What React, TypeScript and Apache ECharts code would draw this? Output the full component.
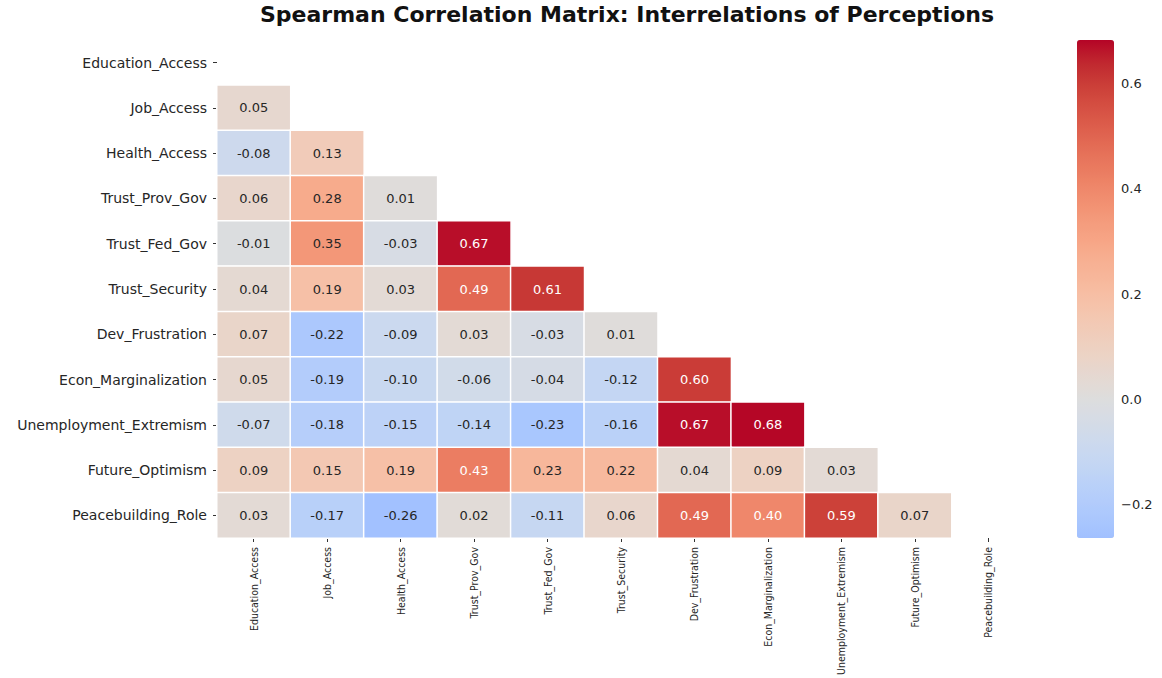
import React, { useEffect, useRef } from "react";
import * as echarts from "echarts";

const variables = [
  "Education_Access",
  "Job_Access",
  "Health_Access",
  "Trust_Prov_Gov",
  "Trust_Fed_Gov",
  "Trust_Security",
  "Dev_Frustration",
  "Econ_Marginalization",
  "Unemployment_Extremism",
  "Future_Optimism",
  "Peacebuilding_Role",
];

// lower-triangle correlations, row i holds columns 0..i-1
const rowJob = [0.05];
const rowHealth = [-0.08, 0.13];
const rowProv = [0.06, 0.28, 0.01];
const rowFed = [-0.01, 0.35, -0.03, 0.67];
const rowSecurity = [0.04, 0.19, 0.03, 0.49, 0.61];
const rowDev = [0.07, -0.22, -0.09, 0.03, -0.03, 0.01];
const rowEcon = [0.05, -0.19, -0.1, -0.06, -0.04, -0.12, 0.6];
const rowUnemp = [-0.07, -0.18, -0.15, -0.14, -0.23, -0.16, 0.67, 0.68];
const rowFuture = [0.09, 0.15, 0.19, 0.43, 0.23, 0.22, 0.04, 0.09, 0.03];
const rowPeace = [0.03, -0.17, -0.26, 0.02, -0.11, 0.06, 0.49, 0.4, 0.59, 0.07];

const lowerRows = [[], rowJob, rowHealth, rowProv, rowFed, rowSecurity, rowDev, rowEcon, rowUnemp, rowFuture, rowPeace];

const colorMin = -0.263;
const colorMax = 0.682;
const colorTicks = [-0.2, 0, 0.2, 0.4, 0.6];

// coolwarm anchors (Moreland)
const coolwarm: number[][] = [
  [59, 76, 192], [68, 90, 204], [77, 104, 215], [87, 117, 225], [98, 130, 234],
  [108, 142, 241], [119, 154, 247], [130, 165, 251], [141, 176, 254], [152, 185, 255],
  [163, 194, 255], [174, 201, 253], [184, 208, 249], [194, 213, 244], [204, 217, 238],
  [213, 219, 230], [221, 221, 221], [229, 216, 209], [236, 211, 197], [241, 204, 185],
  [245, 196, 173], [247, 187, 160], [247, 177, 148], [247, 166, 135], [244, 154, 123],
  [241, 141, 111], [236, 127, 99], [229, 112, 88], [222, 96, 77], [213, 80, 66],
  [203, 62, 56], [192, 40, 47], [180, 4, 38],
];

function cw(t: number): string {
  const p = Math.max(0, Math.min(1, t)) * (coolwarm.length - 1);
  const i = Math.min(coolwarm.length - 2, Math.floor(p));
  const f = p - i;
  const a = coolwarm[i];
  const b = coolwarm[i + 1];
  const c = [0, 1, 2].map((k) => Math.round(a[k] + (b[k] - a[k]) * f));
  return `rgb(${c[0]},${c[1]},${c[2]})`;
}

const vrange = Math.max(colorMax, -colorMin);
const gradient: string[] = [];
for (let k = 0; k <= 40; k++) {
  const v = colorMin + ((colorMax - colorMin) * k) / 40;
  gradient.push(cw((v + vrange) / (2 * vrange)));
}

export default function App() {
  const ref = useRef<HTMLDivElement>(null);
  useEffect(() => {
    if (!ref.current) return;
    const chart = echarts.init(ref.current, undefined, { renderer: "svg" });
    const data: any[] = [];
    lowerRows.forEach((row, i) => {
      row.forEach((v, j) => {
        data.push({
          value: [j, i, v],
          label: { color: v >= 0.4 ? "#ffffff" : "#262626" },
        });
      });
    });
    const font = "DejaVu Sans";
    chart.setOption({
      animation: false,
      backgroundColor: "#ffffff",
      title: {
        text: "Spearman Correlation Matrix: Interrelations of Perceptions",
        left: 622,
        textAlign: "center",
        top: -2,
        textStyle: { fontFamily: font, fontWeight: "bold", fontSize: 22, color: "#111" },
      },
      grid: [
        { left: 217, top: 40, width: 808, height: 498, outerBoundsMode: "none", containLabel: false },
        { left: 1077, top: 40, width: 37, height: 498, outerBoundsMode: "none", containLabel: false },
      ],
      xAxis: [
        {
          type: "category",
          data: variables,
          gridIndex: 0,
          position: "bottom",
          axisLine: { show: false },
          axisTick: { show: true, alignWithLabel: true, length: 4, lineStyle: { color: "#333" } },
          splitLine: { show: false },
          axisLabel: {
            rotate: 90,
            interval: 0,
            margin: 9,
            fontFamily: "DejaVu Sans Condensed",
            fontSize: 10.5,
            color: "#262626",
          },
        },
        { type: "value", gridIndex: 1, show: false, min: 0, max: 1 },
      ],
      yAxis: [
        {
          type: "category",
          data: variables,
          inverse: true,
          gridIndex: 0,
          axisLine: { show: false },
          axisTick: { show: true, alignWithLabel: true, length: 4, lineStyle: { color: "#333" } },
          splitLine: { show: false },
          axisLabel: { interval: 0, margin: 10, fontFamily: font, fontSize: 14, color: "#262626" },
        },
        {
          type: "value",
          gridIndex: 1,
          position: "right",
          min: colorMin,
          max: colorMax,
          axisLine: { show: false },
          splitLine: { show: false },
          axisTick: { show: true, length: 4, customValues: colorTicks, lineStyle: { color: "#333" } },
          axisLabel: {
            customValues: colorTicks,
            margin: 7,
            fontFamily: font,
            fontSize: 13,
            color: "#262626",
            formatter: (v: number) => v.toFixed(1).replace("-", "\u2212"),
          },
        },
      ],
      visualMap: {
        type: "continuous",
        seriesIndex: 0,
        min: colorMin,
        max: colorMax,
        calculable: false,
        hoverLink: false,
        left: 1077,
        top: 40,
        itemWidth: 37,
        itemHeight: 498,
        padding: 0,
        showLabel: false,
        text: ["", ""],
        inRange: { color: gradient },
      },
      series: [
        {
          type: "heatmap",
          xAxisIndex: 0,
          yAxisIndex: 0,
          data,
          itemStyle: { borderColor: "#ffffff", borderWidth: 1.5 },
          label: {
            show: true,
            fontFamily: font,
            fontSize: 13,
            formatter: (p: any) => p.value[2].toFixed(2),
          },
          emphasis: { disabled: true },
        },
        {
          type: "line",
          xAxisIndex: 1,
          yAxisIndex: 1,
          data: [],
          silent: true,
        },
      ],
    });
    return () => chart.dispose();
  }, []);
  return (
    <div
      ref={ref}
      style={{ position: "fixed", left: 0, top: 0, width: 1162, height: 678 }}
    />
  );
}
